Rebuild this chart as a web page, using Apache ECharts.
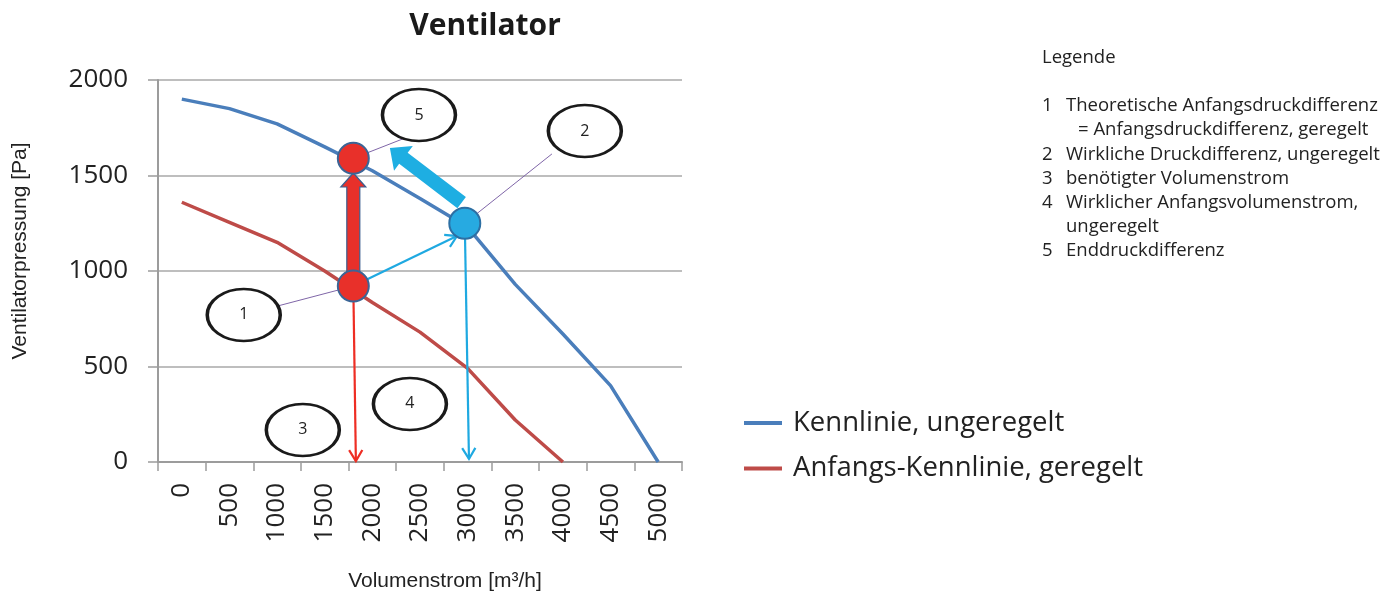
<!DOCTYPE html>
<html>
<head>
<meta charset="utf-8">
<script src="https://cdn.jsdelivr.net/npm/echarts@6/dist/echarts.min.js"></script>
<style>
  html, body { margin: 0; padding: 0; background: #fff; }
  #chart { width: 1400px; height: 593px; }
</style>
</head>
<body>
<div id="chart"></div>
<script>
// Werte
const volumenstrom = ['0', '500', '1000', '1500', '2000', '2500', '3000', '3500', '4000', '4500', '5000'];
const kennlinieUngeregelt = [1900, 1850, 1770, 1650, 1525, 1380, 1230, 930, 670, 400, 0];
const kennlinieGeregelt = [1360, 1255, 1150, 1000, 835, 680, 490, 220, 0];

// Betriebspunkte [Volumenstrom, Pressung]
const rotePunkte = [[1800, 921], [1800, 1590]];
const blauerPunkt = [[2970, 1250]];

// Nummern-Ellipsen (Mittelpunkt in Achsenwerten)
const markenText = ['1', '2', '3', '4', '5'];
const markenPos = [[650, 770], [4230, 1733], [1270, 168], [2394, 304], [2489, 1817]];

// Pfeile: [x1, y1, x2, y2]
const pfeilRotDick = [[1800, 921, 1800, 1513]];
const pfeilBlauDick = [[2937, 1358, 2184, 1644]];
const pfeileBlauDuenn = [[1800, 921, 2888, 1183], [2970, 1250, 3014, 16]];
const pfeilRotDuenn = [[1800, 921, 1827, 5]];
const hinweisLinien = [[650, 770, 1800, 921], [1800, 1590, 2342, 1696], [2970, 1250, 3885, 1613]];

// Legende rechts oben
const legendeZeilen = [
  ['1', 'Theoretische Anfangsdruckdifferenz'],
  ['', '= Anfangsdruckdifferenz, geregelt'],
  ['2', 'Wirkliche Druckdifferenz, ungeregelt'],
  ['3', 'benötigter Volumenstrom'],
  ['4', 'Wirklicher Anfangsvolumenstrom,'],
  ['', 'ungeregelt'],
  ['5', 'Enddruckdifferenz']
];

const FONT = '"Open Sans"';
const chart = echarts.init(document.getElementById('chart'), null, { renderer: 'canvas' });

// zeichnet Block- oder Linienpfeile ueber die Achsen
function pfeil(opt) {
  return function (params, api) {
    const a = api.coord([api.value(0), api.value(1)]);
    const b = api.coord([api.value(2), api.value(3)]);
    const dx = b[0] - a[0], dy = b[1] - a[1];
    const len = Math.hypot(dx, dy) || 1;
    const ux = dx / len, uy = dy / len;
    const nx = -uy, ny = ux;
    if (opt.block) {
      const bx = b[0] - ux * opt.headLen, by = b[1] - uy * opt.headLen;
      const s = opt.shaft / 2, h = opt.head / 2;
      return {
        type: 'polygon',
        shape: { points: [
          [a[0] + nx * s, a[1] + ny * s], [bx + nx * s, by + ny * s], [bx + nx * h, by + ny * h],
          [b[0], b[1]],
          [bx - nx * h, by - ny * h], [bx - nx * s, by - ny * s], [a[0] - nx * s, a[1] - ny * s]
        ] },
        style: { fill: opt.color, stroke: opt.stroke || null, lineWidth: opt.stroke ? 1.2 : 0 }
      };
    }
    const children = [{
      type: 'line',
      shape: { x1: a[0], y1: a[1], x2: b[0], y2: b[1] },
      style: { stroke: opt.color, lineWidth: opt.width }
    }];
    if (opt.chevron) {
      const bx = b[0] - ux * opt.chevron, by = b[1] - uy * opt.chevron;
      const h = opt.chevron * 0.6;
      children.push({
        type: 'polyline',
        shape: { points: [[bx + nx * h, by + ny * h], [b[0], b[1]], [bx - nx * h, by - ny * h]] },
        style: { stroke: opt.color, lineWidth: opt.width, fill: null }
      });
    }
    return { type: 'group', children: children };
  };
}

function pfeilSerie(data, opt, z) {
  return {
    type: 'custom', xAxisIndex: 1, yAxisIndex: 0, z: z, silent: true,
    encode: { x: [0, 2], y: [1, 3] },
    renderItem: pfeil(opt), data: data
  };
}

const graphics = [
  {
    type: 'text', x: 20, y: 251, rotation: Math.PI / 2,
    style: { text: 'Ventilatorpressung [Pa]', font: '21px "Liberation Sans"', fill: '#222', align: 'center', verticalAlign: 'middle' }
  },
  {
    type: 'text', x: 445, y: 581,
    style: { text: 'Volumenstrom [m³/h]', font: '21px "Liberation Sans"', fill: '#222', align: 'center', verticalAlign: 'middle' }
  },
  {
    type: 'text', x: 1042, y: 58,
    style: { text: 'Legende', font: '18.5px ' + FONT, fill: '#222', verticalAlign: 'middle' }
  }
];
legendeZeilen.forEach(function (z, i) {
  const y = 106 + i * 24.2;
  if (z[0]) {
    graphics.push({ type: 'text', x: 1042, y: y, style: { text: z[0], font: '18.5px ' + FONT, fill: '#222', verticalAlign: 'middle' } });
  }
  graphics.push({
    type: 'text', x: z[1].charAt(0) === '=' ? 1078 : 1066, y: y,
    style: { text: z[1], font: '18.5px ' + FONT, fill: '#222', verticalAlign: 'middle' }
  });
});

const axisGrey = '#9c9c9c';

chart.setOption({
  backgroundColor: '#fff',
  animation: false,
  title: {
    text: 'Ventilator', left: 480, top: 6, textAlign: 'center',
    textStyle: { fontFamily: FONT, fontSize: 30, fontWeight: 'bold', color: '#1a1a1a' }
  },
  legend: {
    orient: 'vertical', left: 739, top: 404, itemWidth: 38, itemHeight: 4, itemGap: 17.5,
    icon: 'rect', selectedMode: false,
    textStyle: { fontFamily: FONT, fontSize: 27.5, color: '#222', padding: [0, 0, 0, 6] },
    data: ['Kennlinie, ungeregelt', 'Anfangs-Kennlinie, geregelt']
  },
  grid: { left: 158, right: 718, top: 80, bottom: 131, containLabel: false },
  xAxis: [
    {
      type: 'category', data: volumenstrom, boundaryGap: true,
      axisLine: { lineStyle: { color: axisGrey, width: 2 } },
      axisTick: { show: true, length: 9, lineStyle: { color: axisGrey, width: 1.5 } },
      axisLabel: { rotate: 90, fontFamily: FONT, fontSize: 26, color: '#222', margin: 21, interval: 0 },
      splitLine: { show: false }
    },
    { type: 'value', min: -250, max: 5250, show: false }
  ],
  yAxis: {
    type: 'value', min: 0, max: 2000, interval: 500,
    axisLine: { show: true, onZero: false, lineStyle: { color: axisGrey, width: 2 } },
    axisTick: { show: true, length: 10, lineStyle: { color: axisGrey, width: 1.5 } },
    axisLabel: { fontFamily: FONT, fontSize: 26, color: '#222', margin: 30, formatter: function (v) { return String(v); } },
    splitLine: { lineStyle: { color: '#a8a8a8', width: 1.5 } }
  },
  graphic: graphics,
  series: [
    {
      name: 'Kennlinie, ungeregelt', type: 'line', xAxisIndex: 0, data: kennlinieUngeregelt,
      symbol: 'none', color: '#4a7ebb', lineStyle: { width: 3.5, color: '#4a7ebb' }, z: 2, silent: true
    },
    {
      name: 'Anfangs-Kennlinie, geregelt', type: 'line', xAxisIndex: 0, data: kennlinieGeregelt,
      symbol: 'none', color: '#be4b48', lineStyle: { width: 3.5, color: '#be4b48' }, z: 2, silent: true
    },
    pfeilSerie(hinweisLinien, { color: '#7f66a8', width: 1 }, 3),
    pfeilSerie(pfeileBlauDuenn, { color: '#1fa9e1', width: 2.2, chevron: 11 }, 3),
    pfeilSerie(pfeilRotDuenn, { color: '#ee2e24', width: 2.2, chevron: 11 }, 3),
    pfeilSerie(pfeilRotDick, { block: true, color: '#e8302a', stroke: '#3b5f8f', shaft: 13, head: 25, headLen: 14 }, 4),
    pfeilSerie(pfeilBlauDick, { block: true, color: '#1eaee2', shaft: 14, head: 31, headLen: 17 }, 4),
    {
      type: 'scatter', xAxisIndex: 1, data: rotePunkte, symbolSize: 31, z: 5, silent: true,
      itemStyle: { color: '#e8302a', borderColor: '#3b6596', borderWidth: 2, opacity: 1 }
    },
    {
      type: 'scatter', xAxisIndex: 1, data: blauerPunkt, symbolSize: 31, z: 5, silent: true,
      itemStyle: { color: '#27aae1', borderColor: '#2d6fa3', borderWidth: 2, opacity: 1 }
    },
    {
      type: 'scatter', xAxisIndex: 1, z: 6, silent: true, symbol: 'circle', symbolSize: [73, 52],
      data: markenPos.map(function (p, i) { return { value: p, name: markenText[i] }; }),
      itemStyle: { color: '#fff', borderColor: '#1a1a1a', borderWidth: 3, opacity: 1 },
      label: { show: true, position: 'inside', formatter: '{b}', fontFamily: FONT, fontSize: 16, color: '#222' }
    }
  ]
});
</script>
</body>
</html>
